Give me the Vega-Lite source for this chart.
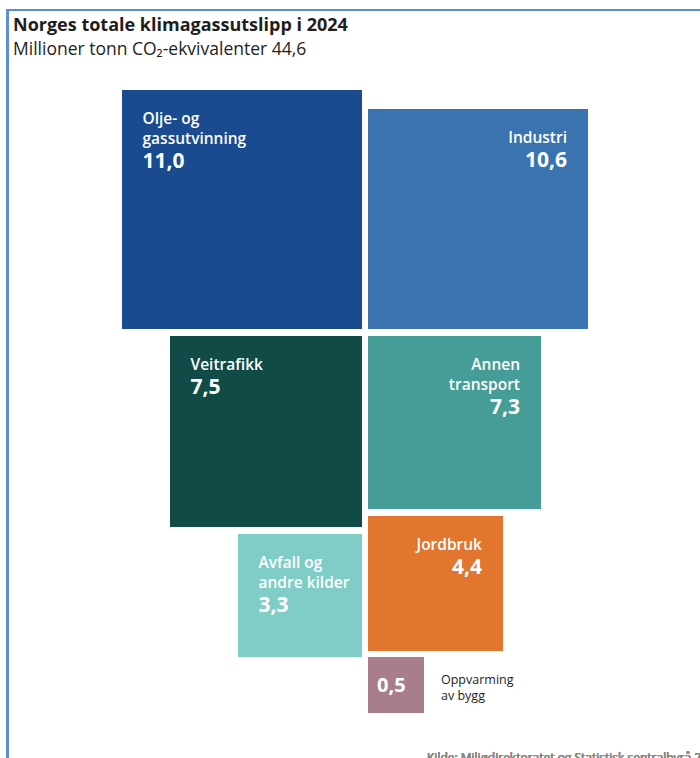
{
  "$schema": "https://vega.github.io/schema/vega-lite/v6.json",
  "width": 700,
  "height": 688,
  "autosize": {"type": "none"},
  "padding": {"top": 70, "left": 0, "right": 0, "bottom": 0},
  "background": "white",
  "config": {
    "view": {"stroke": null},
    "font": "Open Sans",
    "locale": {"number": {"decimal": ",", "thousands": " ", "grouping": [3], "currency": ["", " kr"]}}
  },
  "title": {
    "text": "Norges totale klimagassutslipp i 2024",
    "subtitle": "Millioner tonn CO₂-ekvivalenter 44,6",
    "anchor": "start",
    "frame": "group",
    "dx": 13,
    "offset": -49,
    "font": "Open Sans",
    "fontSize": 18,
    "fontWeight": "bold",
    "color": "#1e1e1e",
    "subtitleFont": "Open Sans",
    "subtitleFontSize": 17.5,
    "subtitleColor": "#1e1e1e",
    "subtitlePadding": 6
  },
  "data": {
    "values": [
      {"sektor": "Olje- og\ngassutvinning", "verdi": 11.0, "side": "v", "linjer": 2, "x0": -243, "x1": -3, "y0": 0, "y1": 239},
      {"sektor": "Industri", "verdi": 10.6, "side": "h", "linjer": 1, "x0": 3, "x1": 223, "y0": 19, "y1": 239},
      {"sektor": "Veitrafikk", "verdi": 7.5, "side": "v", "linjer": 1, "x0": -195, "x1": -3, "y0": 246, "y1": 437},
      {"sektor": "Annen\ntransport", "verdi": 7.3, "side": "h", "linjer": 2, "x0": 3, "x1": 176, "y0": 246, "y1": 419},
      {"sektor": "Avfall og\nandre kilder", "verdi": 3.3, "side": "v", "linjer": 2, "x0": -127, "x1": -3, "y0": 444, "y1": 567},
      {"sektor": "Jordbruk", "verdi": 4.4, "side": "h", "linjer": 1, "x0": 3, "x1": 138, "y0": 426, "y1": 561},
      {"sektor": "Oppvarming\nav bygg", "verdi": 0.5, "side": "u", "linjer": 2, "x0": 3, "x1": 59, "y0": 567, "y1": 623}
    ]
  },
  "layer": [
    {
      "mark": {"type": "rect"},
      "encoding": {
        "x": {"field": "x0", "type": "quantitative", "scale": {"domain": [-365, 335], "nice": false, "zero": false}, "axis": null},
        "x2": {"field": "x1"},
        "y": {"field": "y0", "type": "quantitative", "scale": {"domain": [-20, 668], "reverse": true, "nice": false, "zero": false}, "axis": null},
        "y2": {"field": "y1"},
        "color": {
          "field": "sektor",
          "type": "nominal",
          "legend": null,
          "scale": {
            "domain": ["Olje- og\ngassutvinning", "Industri", "Veitrafikk", "Annen\ntransport", "Avfall og\nandre kilder", "Jordbruk", "Oppvarming\nav bygg"],
            "range": ["#1a4a8f", "#3b73b0", "#114b47", "#469c97", "#80cdc7", "#e2762f", "#a97e8c"]
          }
        }
      }
    },
    {
      "transform": [{"filter": "datum.side == 'v'"}],
      "mark": {"type": "text", "align": "left", "baseline": "alphabetic", "dx": 20.5, "dy": 34, "fontSize": 15.5, "fontWeight": 600, "lineHeight": 19.5, "lineBreak": "\n", "color": "white"},
      "encoding": {
        "x": {"field": "x0", "type": "quantitative", "scale": {"domain": [-365, 335], "nice": false, "zero": false}, "axis": null},
        "y": {"field": "y0", "type": "quantitative", "scale": {"domain": [-20, 668], "reverse": true, "nice": false, "zero": false}, "axis": null},
        "text": {"field": "sektor", "type": "nominal"}
      }
    },
    {
      "transform": [{"filter": "datum.side == 'h'"}],
      "mark": {"type": "text", "align": "right", "baseline": "alphabetic", "dx": -21, "dy": 34, "fontSize": 15.5, "fontWeight": 600, "lineHeight": 19.5, "lineBreak": "\n", "color": "white"},
      "encoding": {
        "x": {"field": "x1", "type": "quantitative", "scale": {"domain": [-365, 335], "nice": false, "zero": false}, "axis": null},
        "y": {"field": "y0", "type": "quantitative", "scale": {"domain": [-20, 668], "reverse": true, "nice": false, "zero": false}, "axis": null},
        "text": {"field": "sektor", "type": "nominal"}
      }
    },
    {
      "transform": [{"filter": "datum.side == 'v' && datum.linjer == 1"}],
      "mark": {"type": "text", "align": "left", "baseline": "alphabetic", "dx": 20.5, "dy": 58, "fontSize": 21, "fontWeight": "bold", "color": "white"},
      "encoding": {
        "x": {"field": "x0", "type": "quantitative", "scale": {"domain": [-365, 335], "nice": false, "zero": false}, "axis": null},
        "y": {"field": "y0", "type": "quantitative", "scale": {"domain": [-20, 668], "reverse": true, "nice": false, "zero": false}, "axis": null},
        "text": {"field": "verdi", "type": "quantitative", "format": ".1f"}
      }
    },
    {
      "transform": [{"filter": "datum.side == 'v' && datum.linjer == 2"}],
      "mark": {"type": "text", "align": "left", "baseline": "alphabetic", "dx": 20.5, "dy": 77.5, "fontSize": 21, "fontWeight": "bold", "color": "white"},
      "encoding": {
        "x": {"field": "x0", "type": "quantitative", "scale": {"domain": [-365, 335], "nice": false, "zero": false}, "axis": null},
        "y": {"field": "y0", "type": "quantitative", "scale": {"domain": [-20, 668], "reverse": true, "nice": false, "zero": false}, "axis": null},
        "text": {"field": "verdi", "type": "quantitative", "format": ".1f"}
      }
    },
    {
      "transform": [{"filter": "datum.side == 'h' && datum.linjer == 1"}],
      "mark": {"type": "text", "align": "right", "baseline": "alphabetic", "dx": -21, "dy": 58, "fontSize": 21, "fontWeight": "bold", "color": "white"},
      "encoding": {
        "x": {"field": "x1", "type": "quantitative", "scale": {"domain": [-365, 335], "nice": false, "zero": false}, "axis": null},
        "y": {"field": "y0", "type": "quantitative", "scale": {"domain": [-20, 668], "reverse": true, "nice": false, "zero": false}, "axis": null},
        "text": {"field": "verdi", "type": "quantitative", "format": ".1f"}
      }
    },
    {
      "transform": [{"filter": "datum.side == 'h' && datum.linjer == 2"}],
      "mark": {"type": "text", "align": "right", "baseline": "alphabetic", "dx": -21, "dy": 77.5, "fontSize": 21, "fontWeight": "bold", "color": "white"},
      "encoding": {
        "x": {"field": "x1", "type": "quantitative", "scale": {"domain": [-365, 335], "nice": false, "zero": false}, "axis": null},
        "y": {"field": "y0", "type": "quantitative", "scale": {"domain": [-20, 668], "reverse": true, "nice": false, "zero": false}, "axis": null},
        "text": {"field": "verdi", "type": "quantitative", "format": ".1f"}
      }
    },
    {
      "transform": [{"filter": "datum.side == 'u'"}],
      "mark": {"type": "text", "align": "left", "baseline": "alphabetic", "dx": 9, "dy": 35, "fontSize": 20, "fontWeight": "bold", "color": "white"},
      "encoding": {
        "x": {"field": "x0", "type": "quantitative", "scale": {"domain": [-365, 335], "nice": false, "zero": false}, "axis": null},
        "y": {"field": "y0", "type": "quantitative", "scale": {"domain": [-20, 668], "reverse": true, "nice": false, "zero": false}, "axis": null},
        "text": {"field": "verdi", "type": "quantitative", "format": ".1f"}
      }
    },
    {
      "transform": [{"filter": "datum.side == 'u'"}],
      "mark": {"type": "text", "align": "left", "baseline": "alphabetic", "dx": 17, "dy": 27, "fontSize": 12.5, "lineHeight": 16, "lineBreak": "\n", "color": "#1e1e1e"},
      "encoding": {
        "x": {"field": "x1", "type": "quantitative", "scale": {"domain": [-365, 335], "nice": false, "zero": false}, "axis": null},
        "y": {"field": "y0", "type": "quantitative", "scale": {"domain": [-20, 668], "reverse": true, "nice": false, "zero": false}, "axis": null},
        "text": {"field": "sektor", "type": "nominal"}
      }
    },
    {
      "mark": {"type": "rule", "color": "#5b8fd3", "strokeWidth": 2},
      "encoding": {
        "x": {"datum": -357.5, "type": "quantitative", "scale": {"domain": [-365, 335], "nice": false, "zero": false}, "axis": null},
        "y": {"datum": -80, "type": "quantitative", "scale": {"domain": [-20, 668], "reverse": true, "nice": false, "zero": false}, "axis": null},
        "y2": {"datum": 680}
      }
    },
    {
      "mark": {"type": "rule", "color": "#5b8fd3", "strokeWidth": 2},
      "encoding": {
        "x": {"datum": -358.5, "type": "quantitative", "scale": {"domain": [-365, 335], "nice": false, "zero": false}, "axis": null},
        "x2": {"datum": 340},
        "y": {"datum": -80, "type": "quantitative", "scale": {"domain": [-20, 668], "reverse": true, "nice": false, "zero": false}, "axis": null}
      }
    },
    {
      "mark": {"type": "text", "align": "left", "baseline": "alphabetic", "fontSize": 12, "color": "#8a8a8a"},
      "encoding": {
        "x": {"datum": 62, "type": "quantitative", "scale": {"domain": [-365, 335], "nice": false, "zero": false}, "axis": null},
        "y": {"datum": 672, "type": "quantitative", "scale": {"domain": [-20, 668], "reverse": true, "nice": false, "zero": false}, "axis": null},
        "text": {"value": "Kilde: Miljødirektoratet og Statistisk sentralbyrå 2025"}
      }
    }
  ]
}
